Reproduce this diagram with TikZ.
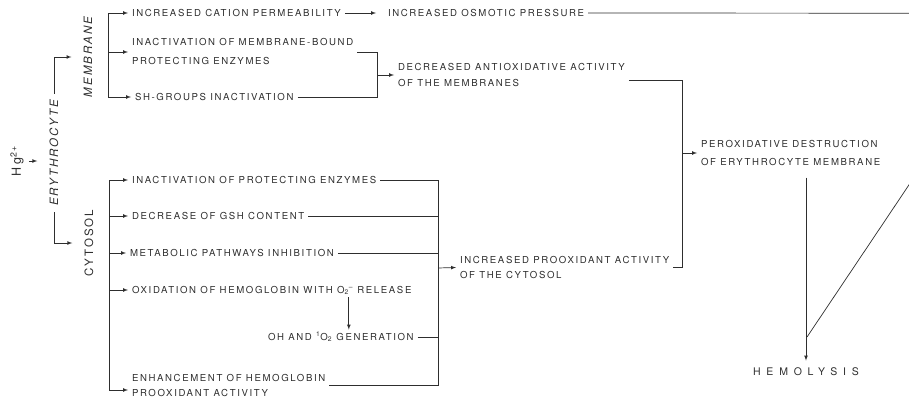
\documentclass[tikz,border=0pt]{standalone}
\usepackage{fontspec}
\newfontfamily\lbl{TeX Gyre Heros}[LetterSpace=17]
\newfontfamily\widelbl{TeX Gyre Heros}[LetterSpace=55]
\definecolor{ink}{gray}{0.18}
\tikzset{
  item/.style={anchor=west,inner sep=0pt,outer sep=4pt,align=left,font=\lbl\fontsize{9.6}{16}\selectfont},
  one/.style={text height=6.9pt,text depth=0pt},
  side/.style={rotate=90,inner sep=0pt,font=\lbl\fontsize{11.5}{14}\selectfont},
  sideit/.style={side,font=\lbl\itshape\fontsize{11.5}{14}\selectfont}
}
\begin{document}
\begin{tikzpicture}[>=latex,x=1pt,y=-1pt,line width=0.7pt,color=ink]
  \useasboundingbox (0,0) rectangle (909,401);
  \clip (0,0) rectangle (909,401);
  \node[side,font=\lbl\fontsize{12.5}{14}\selectfont] (hg) at (17,161) {Hg\textsuperscript{2+}};
  \node[sideit] (ery) at (54,153) {ERYTHROCYTE};
  \node[sideit] (memb) at (88,57) {MEMBRANE};
  \node[side] (cyto) at (89,243) {CYTOSOL};
  \node[item,one] (perm) at (128,13) {INCREASED CATION PERMEABILITY};
  \node[item,one] (osm) at (384,13) {INCREASED OSMOTIC PRESSURE};
  \node[item] (inmb) at (128,52) {INACTIVATION OF MEMBRANE-BOUND\\[3pt]PROTECTING ENZYMES};
  \node[item,one] (sh) at (131,97) {SH-GROUPS INACTIVATION};
  \node[item] (decm) at (394,75) {DECREASED ANTIOXIDATIVE ACTIVITY\\OF THE MEMBRANES};
  \node[item] (perox) at (697,153) {PEROXIDATIVE DESTRUCTION\\[2pt]OF ERYTHROCYTE MEMBRANE};
  \node[item,one] (iprot) at (128,180) {INACTIVATION OF PROTECTING ENZYMES};
  \node[item,one] (gsh) at (128,216) {DECREASE OF GSH CONTENT};
  \node[item,one] (meta) at (126,253) {METABOLIC PATHWAYS INHIBITION};
  \node[item,one] (oxid) at (128,290) {OXIDATION OF HEMOGLOBIN WITH O\textsubscript{2}\textsuperscript{–} RELEASE};
  \node[item,one] (ohgen) at (264,337) {OH AND \textsuperscript{1}O\textsubscript{2} GENERATION};
  \node[item] (enh) at (128,385.5) {ENHANCEMENT OF HEMOGLOBIN\\[-1pt]PROOXIDANT ACTIVITY};
  \node[item] (incp) at (456,267.5) {INCREASED PROOXIDANT ACTIVITY\\[-1pt]OF THE CYTOSOL};
  \node[item,one,anchor=center,font=\widelbl\fontsize{10.5}{12}\selectfont] (hemo) at (806,372) {HEMOLYSIS};
  \coordinate (mb) at ([xshift=16pt]memb.south);
  \coordinate (cb) at ([xshift=16pt]cyto.south);
  \coordinate (mj) at (377,75);
  \coordinate (cj) at (438,268);
  \coordinate (pj) at (682,153);
  \coordinate (hj) at (807,337);
  \coordinate (corner) at (1024,13.3);
  \draw[->,shorten <=5pt,shorten >=12pt] (hg.south) -- (hg.south -| ery.north);
  \draw[->,shorten <=6pt,shorten >=12pt] (ery.east) |- (memb.north);
  \draw[->,shorten <=6pt,shorten >=12pt] (ery.west) |- (cyto.north);
  \draw[->] (mb) |- (perm.west);
  \draw[->] (mb) |- (inmb.west);
  \draw[->] (mb) |- (sh.west);
  \draw[->,shorten >=8pt] (perm) -- (osm);
  \draw (inmb.east) -| (mj);
  \draw (sh.east) -| (mj);
  \draw[->] (mj) -- (decm.west);
  \draw[->] (cb) |- (iprot.west);
  \draw[->] (cb) |- (gsh.west);
  \draw[->] (cb) |- (meta.west);
  \draw[->] (cb) |- (oxid.west);
  \draw[->] (cb) |- ([yshift=-4.5pt]enh.west);
  \draw[->] ([xshift=8pt]ohgen.north |- oxid.south) -- ([xshift=8pt]ohgen.north);
  \draw (iprot.east) -| (cj);
  \draw (gsh.east) -| (cj);
  \draw (meta.east) -| (cj);
  \draw (ohgen.east) -| (cj);
  \draw (enh.east) -| (cj);
  \draw[->] (cj) -- (incp.west);
  \draw ([yshift=-5pt]decm.east) -| (pj);
  \draw (incp.east) -| (pj);
  \draw[->] (pj) -- (perox.west);
  \draw[->,shorten <=8pt,shorten >=4pt] (perox.south -| hemo.north) -- (hemo.north);
  \draw (osm.east) -- (corner);
  \draw (corner) -- (hj);
\end{tikzpicture}
\end{document}
